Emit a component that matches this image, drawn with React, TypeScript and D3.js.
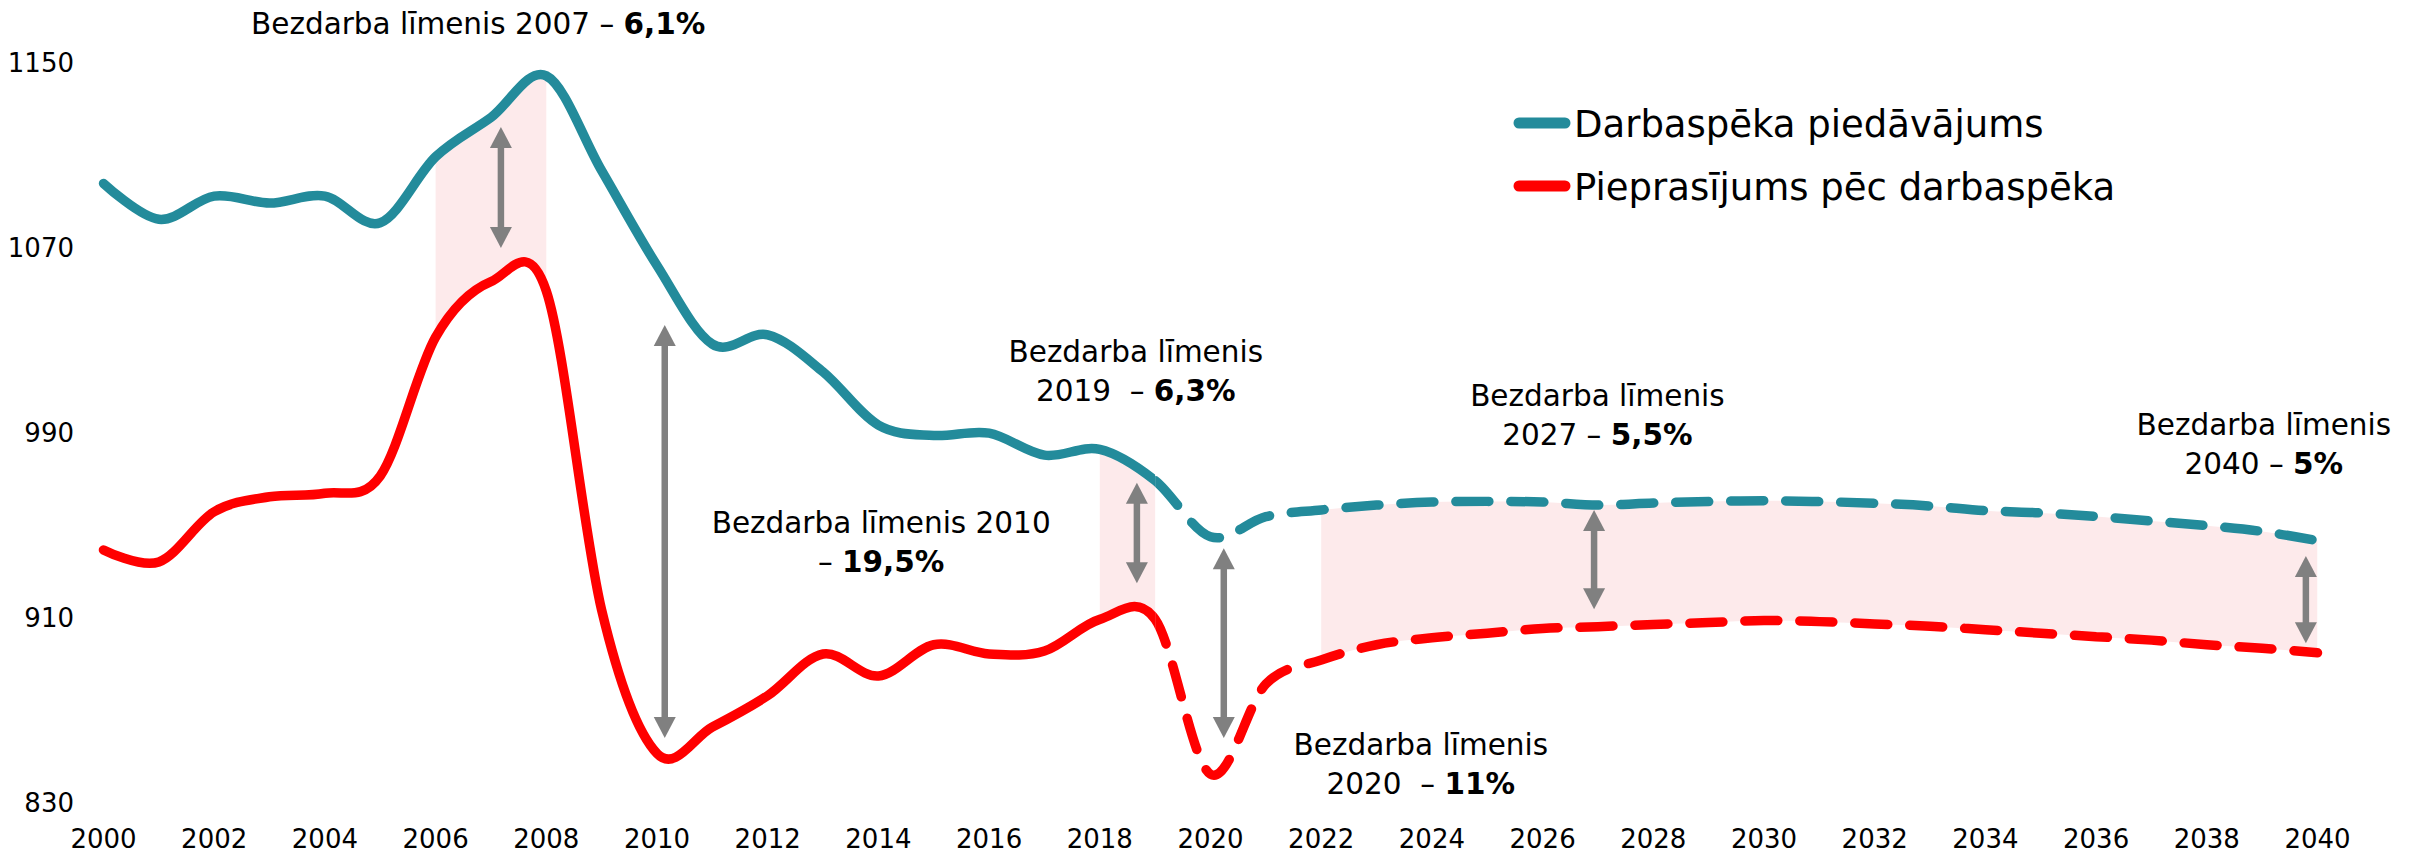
import React, { useLayoutEffect, useRef, useState } from 'react';
import * as d3 from 'd3';

const years = [2000, 2001, 2002, 2003, 2004, 2005, 2006, 2007, 2008, 2009, 2010, 2011, 2012, 2013, 2014, 2015, 2016, 2017, 2018, 2019, 2020,
  2021, 2022, 2023, 2024, 2025, 2026, 2027, 2028, 2029, 2030, 2031, 2032, 2033, 2034, 2035, 2036, 2037, 2038, 2039, 2040];

// Darbaspēka piedāvājums (supply)
const supply = [1097.5, 1082, 1092, 1089, 1092, 1080.5, 1109, 1126, 1144, 1103, 1062, 1028, 1032, 1016, 993, 988.5, 989.5, 980, 982.5, 969, 944.7,
  953.4, 956.3, 958.4, 959.7, 960, 959.7, 958.4, 959.3, 959.9, 960.3, 959.9, 959.2, 958, 956, 955, 953.5, 951.5, 949.5, 947, 943];

// Pieprasījums pēc darbaspēka (demand)
const demand = [939, 933.8, 955.5, 962, 963.5, 971, 1031, 1055, 1051, 913, 851, 862.4, 876, 894, 884.5, 898, 894, 895.3, 909, 909, 842,
  881, 891.4, 898, 901, 903, 905, 905.8, 906.8, 907.6, 908.5, 908, 907, 906, 904.5, 903, 901.5, 900, 898, 896.5, 894.5];

const seriesNames = ['Darbaspēka piedāvājums', 'Pieprasījums pēc darbaspēka'];
const yTicks = [830, 910, 990, 1070, 1150];
const xTicks = [2000, 2002, 2004, 2006, 2008, 2010, 2012, 2014, 2016, 2018, 2020, 2022, 2024, 2026, 2028, 2030, 2032, 2034, 2036, 2038, 2040];
const forecastFrom = 2019;

const gapStart = [2006, 2018, 2022];
const gapEnd = [2008, 2019, 2040];

const arrowYears = [2007.18, 2010.14, 2018.67, 2020.24, 2026.93, 2039.79];
const arrowTop = [1121.9, 1036.3, 968.1, 939.7, 956.3, 936.4];
const arrowBottom = [1069.6, 857.7, 924.6, 857.7, 913.3, 898.7];

const labelLine1 = ['Bezdarba līmenis 2007 – ', 'Bezdarba līmenis 2010', 'Bezdarba līmenis', 'Bezdarba līmenis', 'Bezdarba līmenis', 'Bezdarba līmenis'];
const labelLine2Plain = ['', '– ', '2019  – ', '2020  – ', '2027 – ', '2040 – '];
const labelBold = ['6,1%', '19,5%', '6,3%', '11%', '5,5%', '5%'];
// anchor positions of the labels in data units (year, value of first baseline)
const labelYear = [2006.77, 2014.05, 2018.65, 2023.8, 2026.99, 2039.03];
const labelValue = [1162, 946.3, 1020.3, 850.3, 1001.2, 988.7];

const TEAL = '#238B9B';
const RED = '#FF0000';
const PINK = '#FDEAEB';
const GREY = '#808080';
const FONT = '"DejaVu Sans", sans-serif';

export default function App() {
  const W = 2410, H = 855;
  const x = d3.scaleLinear().domain([2000, 2040]).range([103.5, 2317.5]);
  const y = d3.scaleLinear().domain([830, 1150]).range([802, 62]);
  const curve = d3.curveCardinal.tension(0);

  const lineGen = (vals: number[]) =>
    d3.line<number>().x((_, i) => x(years[i])).y((v) => y(v)).curve(curve)(vals) || '';

  const areaPath = d3.area<number>()
    .x((yr) => x(yr))
    .y0((_, i) => y(demand[i]))
    .y1((_, i) => y(supply[i]))
    .curve(curve)(years) || '';

  const measureRef = useRef<SVGPathElement>(null);
  const [offsets, setOffsets] = useState<number[]>([0, 0]);
  const idx = years.indexOf(forecastFrom);

  useLayoutEffect(() => {
    const p = measureRef.current;
    if (!p) return;
    const res = [supply, demand].map((vals) => {
      p.setAttribute('d', lineGen(vals.slice(0, idx + 1)));
      return -p.getTotalLength();
    });
    setOffsets(res);
  }, []);

  const xf = x(forecastFrom);
  const series = [supply, demand];
  const colors = [TEAL, RED];
  const lh = 39;

  return (
    <svg width={W} height={H} style={{ position: 'absolute', left: 0, top: 0, background: '#fff' }}
      fontFamily={FONT}>
      <defs>
        <clipPath id="hist"><rect x={0} y={0} width={xf} height={H} /></clipPath>
        <clipPath id="fcst"><rect x={xf} y={0} width={W - xf} height={H} /></clipPath>
        <clipPath id="gaps">
          {gapStart.map((s, i) => (
            <rect key={i} x={x(s)} y={0} width={x(gapEnd[i]) - x(s)} height={H} />
          ))}
        </clipPath>
      </defs>
      <path ref={measureRef} d="" fill="none" stroke="none" />

      <path d={areaPath} fill={PINK} clipPath="url(#gaps)" />

      {series.map((vals, k) => (
        <g key={k}>
          <path d={lineGen(vals)} fill="none" stroke={colors[k]} strokeWidth={9.5}
            strokeLinecap="round" strokeLinejoin="round" clipPath="url(#hist)" />
          <path d={lineGen(vals)} fill="none" stroke={colors[k]} strokeWidth={9.5}
            strokeLinecap="round" strokeLinejoin="round" strokeDasharray="33 22"
            strokeDashoffset={offsets[k]} clipPath="url(#fcst)" />
        </g>
      ))}

      {arrowYears.map((yr, i) => {
        const ax = x(yr), t = y(arrowTop[i]), b = y(arrowBottom[i]);
        const hl = 21, hw = 11;
        return (
          <g key={i} fill={GREY}>
            <line x1={ax} x2={ax} y1={t + hl - 2} y2={b - hl + 2} stroke={GREY} strokeWidth={6.5} />
            <path d={`M${ax},${t} L${ax + hw},${t + hl} L${ax - hw},${t + hl} Z`} />
            <path d={`M${ax},${b} L${ax + hw},${b - hl} L${ax - hw},${b - hl} Z`} />
          </g>
        );
      })}

      {yTicks.map((v) => (
        <text key={v} x={74} y={y(v) + 9.5} textAnchor="end" fontSize={26} fill="#000">{v}</text>
      ))}
      {xTicks.map((v) => (
        <text key={v} x={x(v)} y={848} textAnchor="middle" fontSize={26} fill="#000">{v}</text>
      ))}

      {labelLine1.map((l1, i) => {
        const cx = x(labelYear[i]);
        const by = y(labelValue[i]);
        if (i === 0) {
          return (
            <text key={i} x={cx} y={by} textAnchor="middle" fontSize={29.5} fill="#000" style={{ whiteSpace: 'pre' }}>
              {l1}<tspan fontWeight="bold">{labelBold[i]}</tspan>
            </text>
          );
        }
        return (
          <g key={i}>
            <text x={cx} y={by} textAnchor="middle" fontSize={29.5} fill="#000">{l1}</text>
            <text x={cx} y={by + lh} textAnchor="middle" fontSize={29.5} fill="#000" style={{ whiteSpace: 'pre' }}>
              {labelLine2Plain[i]}<tspan fontWeight="bold">{labelBold[i]}</tspan>
            </text>
          </g>
        );
      })}

      {seriesNames.map((name, i) => {
        const ly = 123 + i * 63;
        return (
          <g key={name}>
            <line x1={1519} x2={1565} y1={ly} y2={ly} stroke={colors[i]} strokeWidth={11} strokeLinecap="round" />
            <text x={1574} y={ly + 13.5} fontSize={37} fill="#000">{name}</text>
          </g>
        );
      })}
    </svg>
  );
}
